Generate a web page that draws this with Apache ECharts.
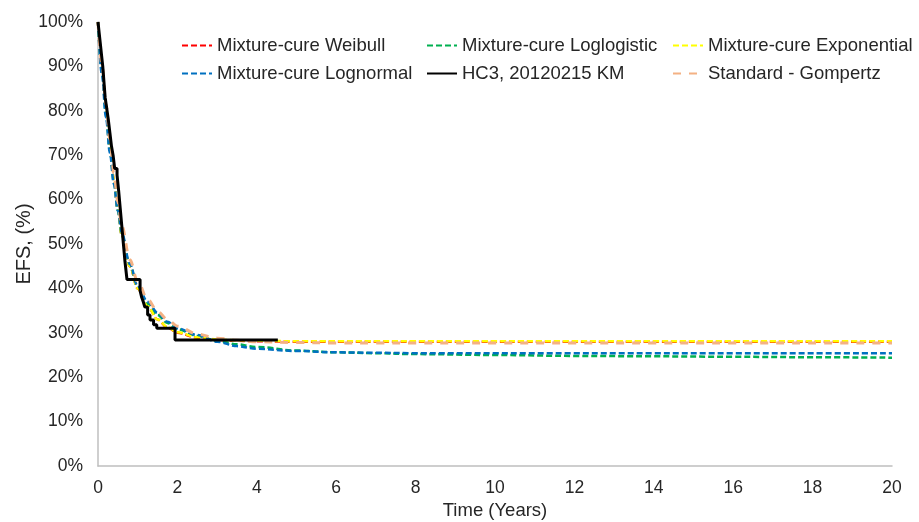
<!DOCTYPE html>
<html>
<head>
<meta charset="utf-8">
<script src="https://cdn.jsdelivr.net/npm/echarts@6/dist/echarts.min.js"></script>
<style>html,body{margin:0;padding:0;background:#fff}#c{width:919px;height:522px}</style>
</head>
<body>
<div id="c"></div>
<script>
// Model time grid (years)
var modelTimes  = [0, 0.1, 0.2, 0.3, 0.4, 0.5, 0.6, 0.8, 1.0, 1.25, 1.5, 1.75, 2, 2.5, 3, 3.5, 4, 5, 6, 7, 8, 10, 12, 14, 16, 18, 20];
var weibull     = [100, 90, 80.5, 72, 64.5, 58, 52, 45, 40, 36, 33, 31.2, 30, 28.9, 28.4, 28.2, 28.1, 28, 28, 28, 28, 28, 28, 28, 28, 28, 28];
var loglogistic = [100, 89, 79.5, 71, 64, 57.5, 52, 45.2, 40.3, 36.5, 34, 32.2, 30.8, 29.3, 28.2, 27.4, 26.8, 26.0, 25.6, 25.4, 25.2, 25.0, 24.8, 24.7, 24.6, 24.5, 24.4];
var exponential = [100, 90, 80.5, 72, 64.5, 58, 52, 45, 40, 36, 33, 31.3, 30.1, 29, 28.5, 28.3, 28.2, 28.1, 28.1, 28.1, 28.1, 28.1, 28.1, 28.1, 28.1, 28.1, 28.1];
var lognormal   = [100, 88, 78.5, 70.5, 63.5, 57.5, 52.5, 45.5, 40.5, 37, 34.5, 32.5, 31, 29.5, 28.0, 27.0, 26.4, 25.9, 25.6, 25.5, 25.4, 25.4, 25.4, 25.4, 25.4, 25.4, 25.4];
var gompertz    = [100, 90.5, 81.5, 73.5, 66, 59.5, 54, 46.5, 41.5, 37.5, 34.8, 33, 31.5, 29.7, 28.8, 28.3, 28.0, 27.8, 27.7, 27.7, 27.7, 27.7, 27.7, 27.7, 27.7, 27.7, 27.7];
// Kaplan-Meier (HC3, 20120215)
var kmTimes  = [0, 0.03, 0.06, 0.09, 0.12, 0.15, 0.18, 0.22, 0.26, 0.3, 0.34, 0.38, 0.42, 0.48, 0.52, 0.56, 0.6, 0.64, 0.68, 0.73, 1.06, 1.1, 1.14, 1.18, 1.25, 1.31, 1.4, 1.48, 1.94, 4.53];
var kmValues = [100, 97.5, 95, 92.5, 90, 86.5, 83, 80.5, 78, 75, 72, 70, 67, 65.5, 62, 58, 54, 50, 46, 42, 39.5, 38, 37, 35.8, 34, 32.9, 31.8, 31, 28.4, 28.4];
var xTicks = [0, 2, 4, 6, 8, 10, 12, 14, 16, 18, 20];
var names = ['Mixture-cure Weibull', 'Mixture-cure Loglogistic', 'Mixture-cure Exponential', 'Mixture-cure Lognormal', 'HC3, 20120215 KM', 'Standard - Gompertz'];

function pairs(t, v) { return t.map(function (x, i) { return [x, v[i]]; }); }

var font = 'Liberation Sans, Arial, sans-serif';
var textColor = '#262626';
var chart = echarts.init(document.getElementById('c'));
var shortDash = [6, 3];
function model(name, vals, color, dash, w) {
  return { name: name, type: 'line', data: pairs(modelTimes, vals), smooth: 0.35, smoothMonotone: 'x', symbol: 'none',
    lineStyle: { color: color, width: w || 2.5, type: dash }, itemStyle: { color: color }, z: 2 };
}
function legendAt(left, items) {
  return { orient: 'vertical', left: left, top: 31, itemWidth: 30, itemHeight: 14, itemGap: 9,
    itemStyle: { opacity: 0 },
    textStyle: { fontFamily: font, fontSize: 18.5, color: textColor }, selectedMode: false, data: items };
}
chart.setOption({
  animation: false,
  grid: { left: 98, right: 27, top: 22, bottom: 56, containLabel: false, outerBoundsMode: 'none' },
  legend: [
    legendAt(176, [names[0], names[3]]),
    legendAt(421, [names[1], names[4]]),
    legendAt(667, [names[2], names[5]])
  ],
  xAxis: {
    type: 'value', min: 0, max: 20, interval: 2,
    name: 'Time (Years)', nameLocation: 'middle', nameGap: 35,
    nameTextStyle: { fontFamily: font, fontSize: 18.5, color: textColor },
    axisLine: { lineStyle: { color: '#bfbfbf', width: 1.5 } },
    axisTick: { show: false },
    splitLine: { show: false },
    axisLabel: { fontFamily: font, fontSize: 17.5, color: textColor, margin: 13,
      formatter: function (v) { return xTicks.indexOf(v) >= 0 ? String(v) : ''; } }
  },
  yAxis: {
    type: 'value', min: 0, max: 100, interval: 10,
    name: 'EFS, (%)', nameLocation: 'middle', nameGap: 64, nameRotate: 90, nameMoveOverlap: false,
    nameTextStyle: { fontFamily: font, fontSize: 20, color: textColor },
    axisLine: { show: true, lineStyle: { color: '#bfbfbf', width: 1.5 } },
    axisTick: { show: false },
    splitLine: { show: false },
    axisLabel: { fontFamily: font, fontSize: 17.5, color: textColor, margin: 15, formatter: '{value}%' }
  },
  series: [
    model(names[0], weibull, '#ff0000', shortDash),
    model(names[1], loglogistic, '#00b050', shortDash),
    model(names[2], exponential, '#ffff00', shortDash),
    model(names[3], lognormal, '#0070c0', shortDash),
    { name: names[4], type: 'line', data: pairs(kmTimes, kmValues), step: 'end', symbol: 'none',
      lineStyle: { color: '#000000', width: 3 }, itemStyle: { color: '#000000' }, z: 5 },
    model(names[5], gompertz, '#f4b183', [8, 8], 3)
  ]
});
</script>
</body>
</html>
